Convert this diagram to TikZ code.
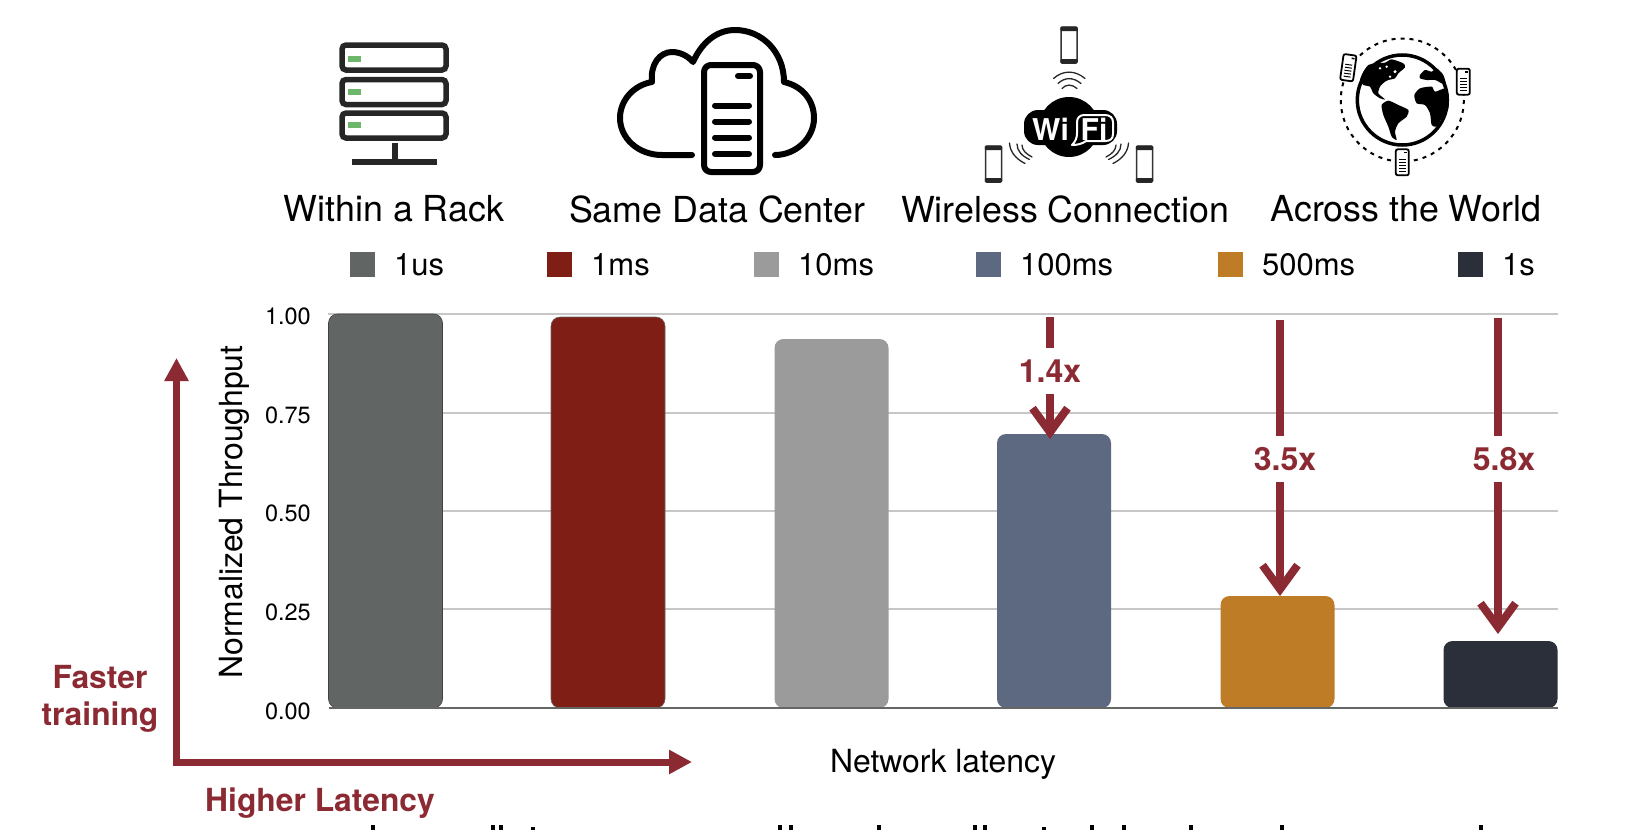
\documentclass[tikz,border=0pt]{standalone}
\usepackage{fontspec}
\setmainfont{TeX Gyre Heros}
\usetikzlibrary{positioning, arrows.meta}
\definecolor{gainred}{HTML}{8B2A32}
\definecolor{barone}{HTML}{616664}
\definecolor{bartwo}{HTML}{7F1E14}
\definecolor{barthree}{HTML}{9B9B9B}
\definecolor{barfour}{HTML}{5D6981}
\definecolor{barfive}{HTML}{BE7C27}
\definecolor{barsix}{HTML}{2B2F3A}
\definecolor{iconblack}{HTML}{262626}
\definecolor{ledgreen}{HTML}{6DB76C}
\tikzset{
	title/.style={font=\fontsize{35.8}{40}\selectfont, inner sep=0pt},
	legbox/.style={minimum size=25pt, inner sep=0pt, outer sep=0pt},
	legtext/.style={font=\fontsize{31}{36}\selectfont, inner sep=0pt, right=19pt of #1, yshift=-1pt},
	tick/.style={font=\fontsize{23.5}{28}\selectfont, inner sep=0pt, anchor=east},
	axislabel/.style={font=\fontsize{31.9}{36}\selectfont, inner sep=0pt},
	bar/.style={anchor=south, rectangle, rounded corners=9pt, inner sep=0pt, outer sep=0pt, minimum width=114pt},
	gain/.style={font=\fontsize{32}{36}\selectfont\bfseries, text=gainred, inner sep=0pt, minimum height=46pt},
	gainline/.style={draw=gainred, line width=8pt},
	gainarrow/.style={gainline, -{Straight Barb[length=24pt, width=35pt, line width=8pt]}},
	hint/.style={font=\fontsize{31.8}{37}\selectfont\bfseries, text=gainred, inner sep=0pt, align=center},
	gridline/.style={draw=black!22, line width=1.5pt},
	rackrow/.style={draw=iconblack, line width=5.5pt, rounded corners=4pt},
	led/.style={fill=ledgreen},
	iconline/.style={draw=black, line width=6pt, line cap=round, line join=round},
	wave/.style={draw=black!85, line width=1.3pt, line cap=round},
	wifitext/.style={font=\fontsize{30}{32}\selectfont\bfseries, text=white, inner sep=0pt},
	pics/mobile/.style={code={
		\draw[black!80, line width=1.5pt, rounded corners=1.5pt, fill=white] (-8,-18) rectangle (8,18);
		\fill[black!85, rounded corners=1pt] (-8.7,-18.5) rectangle (8.7,-14);
		\fill[black!85, rounded corners=1pt] (-8.7,14) rectangle (8.7,18.5);
	}},
	pics/textphone/.style={code={
		\draw[black, line width=1.8pt, rounded corners=2pt, fill=white] (-6.5,-13) rectangle (6.5,13);
		\fill (2,-10.5) rectangle (5,-9);
		\draw[black, line width=1pt] (-3.5,-3) -- (3.5,-3) (-3.5,0) -- (3.5,0) (-3.5,3) -- (3.5,3) (-3.5,6) -- (3.5,6) (-3.5,9) -- (3.5,9);
	}}
}
\begin{document}
\begin{tikzpicture}[x=1pt, y=-1pt]
	\useasboundingbox (0,0) rectangle (1646,830);

	\draw[rackrow] (342,45) rectangle (446,70);
	\draw[rackrow] (342,79.5) rectangle (446,104.5);
	\draw[rackrow] (342,113) rectangle (446,138);
	\fill[led] (348,56) rectangle (361,61.5);
	\fill[led] (348,89) rectangle (361,95);
	\fill[led] (348,122) rectangle (361,128);
	\fill[iconblack] (392,143) rectangle (398,160);
	\fill[iconblack] (352,159) rectangle (437,165);

	\draw[iconline] (692,155) -- (662,155) .. controls (638,155) and (620,138) .. (620,118) .. controls (620,100) and (634,85) .. (652,82) .. controls (650,64) and (660,52) .. (672,52) .. controls (680,52) and (688,56) .. (693,62) .. controls (702,42) and (717,30) .. (735,30) .. controls (762,30) and (784,52) .. (784,82) .. controls (802,86) and (814,100) .. (814,118) .. controls (814,138) and (796,155) .. (775,155);
	\draw[iconline, rounded corners=7pt] (704,65) rectangle (760,172);
	\draw[iconline] (738,76) -- (750,76);
	\draw[iconline] (715,105.5) -- (749,105.5);
	\draw[iconline] (715,121.5) -- (749,121.5);
	\draw[iconline] (715,137.5) -- (749,137.5);
	\draw[iconline] (715,154) -- (749,154);

	\pic at (1069,45) {mobile};
	\pic at (993.5,164) {mobile};
	\pic at (1144.5,164) {mobile};
	\fill[black] (1069,127) circle (30);
	\fill[black, rounded corners=14pt] (1024,110) rectangle (1117,145);
	\draw[white, line width=2pt, line join=round, fill=black] (1084,115) -- (1105,115) .. controls (1110,115) and (1113,118) .. (1113,122) -- (1113,134) .. controls (1113,139) and (1110,141) .. (1105,141) -- (1086,141) .. controls (1082,144) and (1077,145) .. (1072,145) .. controls (1076,141) and (1077,137) .. (1077,133) -- (1077,122) .. controls (1077,118) and (1080,115) .. (1084,115) -- cycle;
	\node[wifitext] (wi) at (1050.5,129) {Wi};
	\node[wifitext] (fi) at (1094,129) {Fi};
	\draw[wave] (1053.5,78.5) .. controls (1063,70) and (1075,70) .. (1085,78.5);
	\draw[wave] (1058,83.5) .. controls (1065,77) and (1073,77) .. (1081,83.5);
	\draw[wave] (1062,88.5) .. controls (1066,84) and (1072,84) .. (1077,88.5);
	\draw[wave] (1009.5,143) .. controls (1010,152) and (1016,159) .. (1025,163.5);
	\draw[wave] (1017,144) .. controls (1017,151) and (1022,156) .. (1029.5,159.5);
	\draw[wave] (1022,145) .. controls (1022,150) and (1026,154) .. (1032,157);
	\draw[wave] (1128.5,143) .. controls (1128,152) and (1122,159) .. (1113,163.5);
	\draw[wave] (1121,144) .. controls (1121,151) and (1116,156) .. (1108.5,159.5);
	\draw[wave] (1116,145) .. controls (1116,150) and (1112,154) .. (1106,157);

	\draw[black, line width=2pt, dash pattern=on 4pt off 5pt] (1402.3,100) circle (61.5);
	\draw[black, line width=3.5pt] (1402.3,100) circle (45);
	\begin{scope}[shift={(1320,30)}, x=1/3*1pt, y=-1/3*1pt]
		\fill[black] plot[smooth cycle, tension=.4] coordinates {(165,100) (195,98) (215,88) (250,100) (255,112) (235,130) (225,145) (205,150) (195,155) (180,170) (175,190) (195,208) (180,205) (160,190) (150,170) (130,165) (120,150) (130,125) (145,105)};
		\fill[black] plot[smooth cycle, tension=.4] coordinates {(185,225) (205,212) (235,225) (265,240) (260,260) (235,280) (225,305) (230,330) (215,320) (205,290) (190,255)};
		\fill[black] plot[smooth cycle, tension=.4] coordinates {(283,195) (300,175) (335,170) (345,185) (375,175) (385,190) (385,235) (365,265) (350,290) (335,285) (330,250) (315,225) (290,220)};
		\fill[black] plot[smooth cycle, tension=.4] coordinates {(300,135) (315,120) (335,125) (350,115) (370,135) (378,165) (365,160) (345,150) (320,150) (300,145)};
		\fill[white] (180,115) circle (4) (200,110) circle (4) (225,125) circle (5) (210,140) circle (4);
	\end{scope}
	\pic[rotate=-8] at (1348.3,67.7) {textphone};
	\pic at (1463.3,81.7) {textphone};
	\pic at (1402.3,162.3) {textphone};

	\node[title] (rack) at (394,209) {Within a Rack};
	\node[title] (center) at (717,209) {Same Data Center};
	\node[title] (wireless) at (1065,209) {Wireless Connection};
	\node[title] (world) at (1406,209) {Across the World};

	\node[legbox, fill=barone] (leg1) at (362.5,264) {};
	\node[legtext=leg1] (lab1) {1us};
	\node[legbox, fill=bartwo] (leg2) at (559.5,264) {};
	\node[legtext=leg2] (lab2) {1ms};
	\node[legbox, fill=barthree] (leg3) at (766.5,264) {};
	\node[legtext=leg3] (lab3) {10ms};
	\node[legbox, fill=barfour] (leg4) at (988.5,264) {};
	\node[legtext=leg4] (lab4) {100ms};
	\node[legbox, fill=barfive] (leg5) at (1230.5,264) {};
	\node[legtext=leg5] (lab5) {500ms};
	\node[legbox, fill=barsix] (leg6) at (1470.5,264) {};
	\node[legtext=leg6] (lab6) {1s};

	\draw[gridline] (328,314) -- (1558,314);
	\draw[gridline] (328,413) -- (1558,413);
	\draw[gridline] (328,511) -- (1558,511);
	\draw[gridline] (328,609) -- (1558,609);

	\node[tick] (y100) at (311,316) {1.00};
	\node[tick] (y75) at (311,415) {0.75};
	\node[tick] (y50) at (311,513) {0.50};
	\node[tick] (y25) at (311,612) {0.25};
	\node[tick] (y0) at (311,711) {0.00};

	\node[bar, fill=barone, draw=black!75, line width=.6pt, minimum height=394pt] (bar1) at (385.5,708) {};
	\node[bar, fill=bartwo, draw=black!60, line width=.6pt, minimum height=391pt] (bar2) at (608,708) {};
	\node[bar, fill=barthree, minimum height=369pt] (bar3) at (831.5,708) {};
	\node[bar, fill=barfour, minimum height=274pt] (bar4) at (1054,708) {};
	\node[bar, fill=barfive, minimum height=112pt] (bar5) at (1277.5,708) {};
	\node[bar, fill=barsix, minimum height=67pt] (bar6) at (1500.5,708) {};
	\draw[black!60, line width=1.5pt] (bar1.south west) -- (bar6.south east);

	\node[axislabel, rotate=90] (ylabel) at (234,512) {Normalized Throughput};
	\node[axislabel] (xlabel) at (943,764) {Network latency};

	\coordinate (top4) at (1050,317);
	\coordinate (top5) at (1280,320);
	\coordinate (top6) at (1498,318);
	\coordinate (tip4) at (1050,439);
	\coordinate (tip5) at (1280,596);
	\coordinate (tip6) at (1498,634);
	\node[gain] (gain4) at (1050,371) {1.4x};
	\node[gain] (gain5) at (1285,459) {3.5x};
	\node[gain] (gain6) at (1504,459) {5.8x};
	\draw[gainline] (top4) -- (top4 |- gain4.north);
	\draw[gainarrow] (top4 |- gain4.south) -- (tip4);
	\draw[gainline] (top5) -- (top5 |- gain5.north);
	\draw[gainarrow] (top5 |- gain5.south) -- (tip5);
	\draw[gainline] (top6) -- (top6 |- gain6.north);
	\draw[gainarrow] (top6 |- gain6.south) -- (tip6);

	\coordinate (origin) at (176.5,762);
	\coordinate (ytip) at (176.5,358);
	\coordinate (xtip) at (692,762);
	\draw[draw=gainred, line width=7pt, {Triangle[length=23pt, width=23pt]}-{Triangle[length=23pt, width=23pt]}] (ytip) -- (origin) -- (xtip);
	\node[hint] (faster) at (100,699) {Faster\\training};
	\node[hint] (higher) at (320,803) {Higher Latency};

	\foreach \x in {371,491,499,778,789,877,973,983,1090,1122,1189,1280,1479}
		\fill[black] (\x,825) rectangle ++(3.5,5);
	\foreach \x in {531,1042}
		\fill[black] (\x,827) rectangle ++(3.5,3);
\end{tikzpicture}
\end{document}
